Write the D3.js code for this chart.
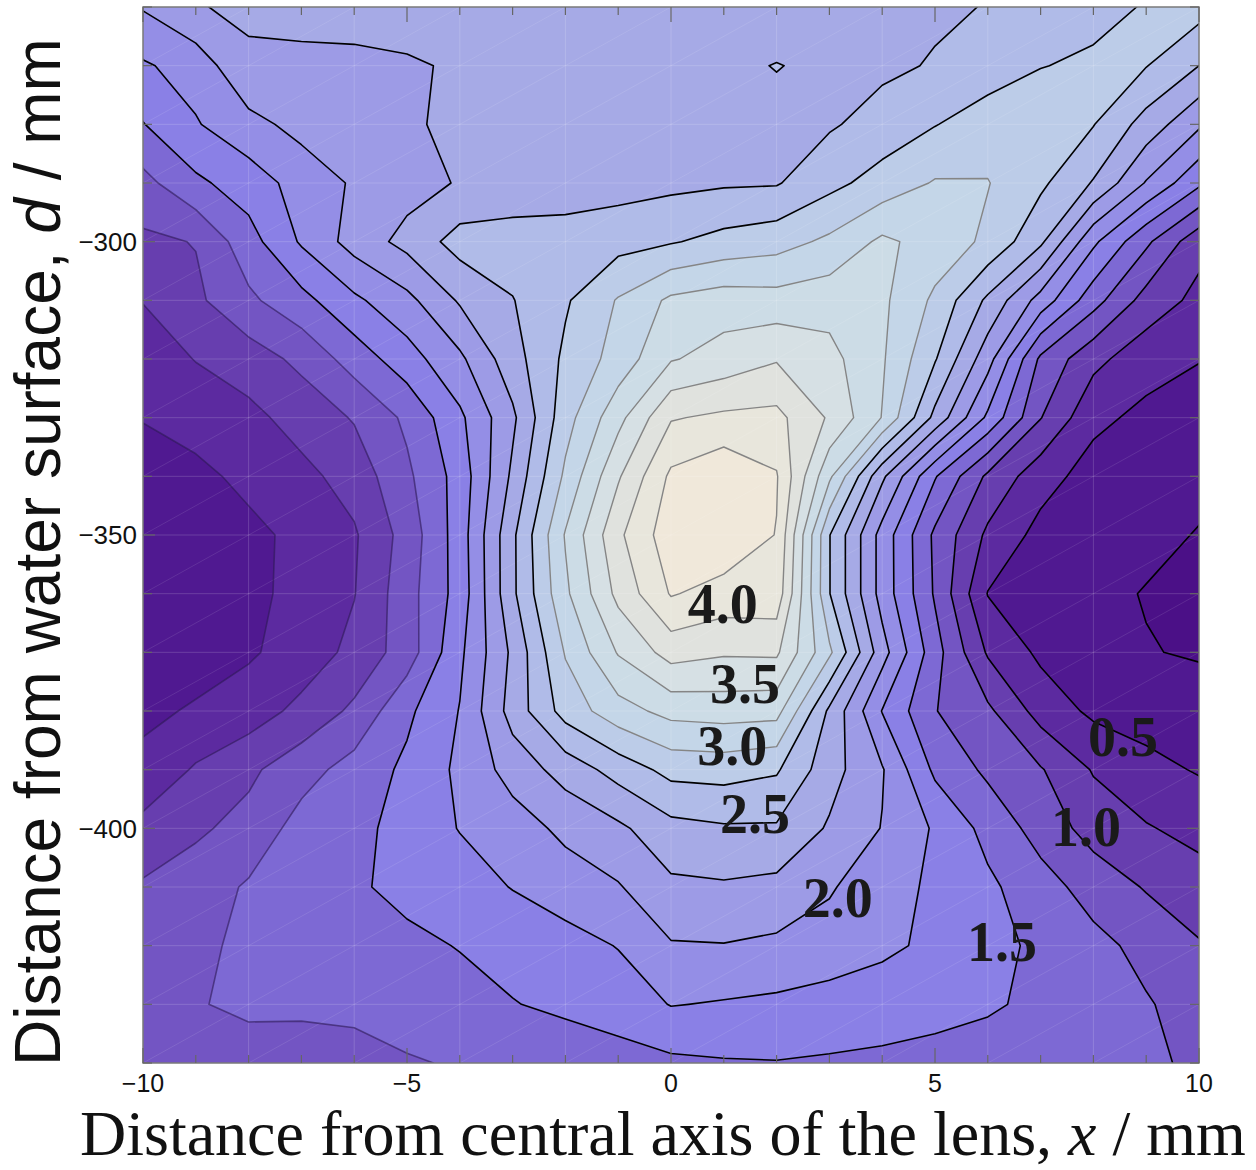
<!DOCTYPE html>
<html>
<head>
<meta charset="utf-8">
<script src="https://cdn.jsdelivr.net/npm/d3@7"></script>
<style>
  body { margin: 0; background: #fff; }
  svg { display: block; }
</style>
</head>
<body>
<svg id="chart"></svg>
<script>
// grid positions of the measurements
const xGrid = [-10, -9, -8, -7, -6, -5, -4, -3, -2, -1, 0, 1, 2, 3, 4, 5, 6, 7, 8, 9, 10]
const depthGrid = [-260, -270, -280, -290, -300, -310, -320, -330, -340, -350,
  -360, -370, -380, -390, -400, -410, -420, -430, -440]

// one row per depth (top = -260 mm), one value per x
const intensity = [
  [2.02, 2.24, 2.28, 2.3, 2.32, 2.33, 2.35, 2.36, 2.37, 2.38, 2.39, 2.4, 2.41, 2.42, 2.44, 2.46, 2.51, 2.57, 2.66, 2.77, 2.85],
  [1.72, 1.85, 2.22, 2.215, 2.21, 2.23, 2.27, 2.3, 2.32, 2.35, 2.38, 2.47, 2.505, 2.47, 2.45, 2.52, 2.62, 2.74, 2.8, 2.76, 2.5],
  [1.49, 1.73, 1.92, 2.08, 2.15, 2.22, 2.3, 2.35, 2.38, 2.4, 2.42, 2.44, 2.46, 2.47, 2.6, 2.74, 2.88, 2.95, 2.76, 2.4, 2.04],
  [1.17, 1.45, 1.62, 1.85, 2.03, 2.15, 2.27, 2.33, 2.36, 2.4, 2.44, 2.47, 2.48, 2.68, 2.85, 3.02, 3.01, 2.8, 2.48, 1.98, 1.55],
  [0.95, 1.01, 1.4, 1.78, 2.1, 2.33, 2.6, 2.62, 2.62, 2.66, 2.73, 2.83, 2.9, 3.05, 3.3, 3.15, 2.95, 2.55, 1.8, 1.3, 0.83],
  [0.76, 0.95, 1.2, 1.42, 1.7, 1.93, 2.28, 2.49, 2.72, 3.02, 3.3, 3.38, 3.35, 3.4, 3.3, 2.95, 2.45, 1.9, 1.35, 0.9, 0.68],
  [0.6, 0.76, 0.88, 1.06, 1.36, 1.64, 1.95, 2.4, 2.8, 3.1, 3.48, 3.6, 3.73, 3.58, 3.28, 2.77, 2.1, 1.2, 0.82, 0.6, 0.51],
  [0.51, 0.58, 0.68, 0.85, 1.02, 1.3, 1.7, 2.2, 2.9, 3.42, 3.98, 4.05, 4.07, 3.72, 3.24, 2.43, 1.7, 1.01, 0.56, 0.44, 0.38],
  [0.4, 0.45, 0.55, 0.68, 0.85, 1.2, 1.6, 2.3, 3.05, 3.72, 4.3, 4.45, 4.27, 3.3, 2.3, 1.52, 0.95, 0.6, 0.4, 0.35, 0.3],
  [0.35, 0.4, 0.45, 0.55, 0.72, 1.1, 1.62, 2.45, 3.27, 3.95, 4.4, 4.45, 4.24, 2.76, 1.9, 1.2, 0.7, 0.42, 0.35, 0.3, 0.24],
  [0.35, 0.38, 0.44, 0.57, 0.74, 1.15, 1.6, 2.45, 3.2, 3.82, 4.27, 4.15, 4.16, 2.76, 1.9, 1.22, 0.49, 0.38, 0.3, 0.24, 0.15],
  [0.4, 0.42, 0.47, 0.6, 0.82, 1.12, 1.7, 2.3, 3.02, 3.52, 3.85, 3.78, 3.79, 3.05, 2.1, 1.35, 0.72, 0.45, 0.35, 0.26, 0.23],
  [0.46, 0.52, 0.62, 0.82, 1.05, 1.45, 1.76, 2.35, 2.85, 3.15, 3.33, 3.36, 3.34, 2.45, 1.74, 1.26, 1.05, 0.65, 0.45, 0.4, 0.35],
  [0.55, 0.78, 0.95, 1.15, 1.35, 1.55, 1.8, 2.1, 2.35, 2.6, 2.83, 2.85, 2.78, 2.35, 2.02, 1.45, 1.2, 1.02, 0.73, 0.57, 0.48],
  [0.83, 0.96, 1.08, 1.35, 1.42, 1.6, 1.76, 1.88, 2.06, 2.2, 2.42, 2.47, 2.47, 2.22, 1.99, 1.72, 1.42, 1.15, 0.9, 0.77, 0.67],
  [1.03, 1.12, 1.28, 1.38, 1.47, 1.56, 1.64, 1.76, 1.87, 1.98, 2.2, 2.22, 2.18, 2.03, 1.82, 1.72, 1.55, 1.35, 1.15, 0.98, 0.86],
  [1.1, 1.2, 1.3, 1.35, 1.4, 1.45, 1.51, 1.58, 1.66, 1.76, 1.98, 1.99, 1.95, 1.88, 1.8, 1.7, 1.58, 1.45, 1.32, 1.18, 1.02],
  [1.15, 1.24, 1.28, 1.27, 1.27, 1.3, 1.42, 1.49, 1.55, 1.62, 1.76, 1.73, 1.7, 1.66, 1.62, 1.58, 1.53, 1.45, 1.38, 1.27, 1.15],
  [1.12, 1.15, 1.18, 1.2, 1.22, 1.24, 1.26, 1.3, 1.35, 1.4, 1.45, 1.48, 1.49, 1.47, 1.45, 1.42, 1.39, 1.36, 1.32, 1.28, 1.22]
]

const levels = [0.25, 0.5, 0.75, 1.0, 1.25, 1.5, 1.75, 2.0, 2.25, 2.5, 2.75, 3.0, 3.25, 3.5, 3.75, 4.0, 4.25]

// contour labels
const labelText = ['4.0', '3.5', '3.0', '2.5', '2.0', '1.5', '1.0', '0.5']
const labelX = [0.98, 1.4, 1.16, 1.59, 3.16, 6.27, 7.86, 8.56]
const labelDepth = [-361.7, -375.3, -385.9, -397.5, -411.8, -419.3, -399.7, -384.4]

const xTicks = [-10, -5, 0, 5, 10]
const yTicks = [-300, -350, -400]

// fill for each band, lowest first (below 0.25 up to above 4.25)
const bandColors = ['#4b1087', '#501991', '#5c2aa0', '#673eaf', '#7355c3', '#7d69d4',
  '#8a80e6', '#948ee6', '#9d9be6', '#a6aae6', '#b0bbe8', '#bccce8', '#c4d6e8',
  '#ccdce6', '#d6e0e4', '#e0e2de', '#e8e6dc', '#f0e8da']

const width = 1256
const height = 1170
const margin = {top: 7, right: 57, bottom: 107, left: 143}
const plotW = width - margin.left - margin.right
const plotH = height - margin.top - margin.bottom

const svg = d3.select('#chart')
  .attr('width', width)
  .attr('height', height)

const xScale = d3.scaleLinear().domain([-10, 10]).range([0, plotW])
const yScale = d3.scaleLinear().domain([-260, -440]).range([0, plotH])

const defs = svg.append('defs')
defs.append('clipPath').attr('id', 'plot-clip')
  .append('rect').attr('width', plotW).attr('height', plotH)
defs.append('clipPath').attr('id', 'left-clip')
  .append('rect').attr('width', xScale(0)).attr('height', plotH)
defs.append('clipPath').attr('id', 'right-clip')
  .append('rect').attr('x', xScale(0)).attr('width', plotW - xScale(0)).attr('height', plotH)

const chart = svg.append('g')
  .attr('transform', `translate(${margin.left},${margin.top})`)

// contours from the grid; grid index i sits at i + 0.5 in d3.contours space
const dxStep = xGrid[1] - xGrid[0]
const dyStep = depthGrid[1] - depthGrid[0]
const gridToPx = d3.geoTransform({
  point (c, r) {
    this.stream.point(xScale(xGrid[0] + (c - 0.5) * dxStep), yScale(depthGrid[0] + (r - 0.5) * dyStep))
  }
})
const path = d3.geoPath(gridToPx)

const contours = d3.contours()
  .size([xGrid.length, depthGrid.length])
  .thresholds(levels)(intensity.flat())

const plot = chart.append('g').attr('clip-path', 'url(#plot-clip)')

plot.append('rect')
  .attr('width', plotW)
  .attr('height', plotH)
  .attr('fill', bandColors[0])

plot.selectAll('.band')
  .data(contours)
  .enter()
  .append('path')
  .attr('class', 'band')
  .attr('d', path)
  .attr('fill', (c, i) => bandColors[i + 1])

// faint white grid and diagonal texture
const grid = plot.append('g')
  .attr('stroke', '#fff')
  .attr('fill', 'none')
d3.range(-8, 10, 2).forEach(v => {
  grid.append('line')
    .attr('x1', xScale(v)).attr('x2', xScale(v))
    .attr('y1', 0).attr('y2', plotH)
    .attr('stroke-opacity', 0.16)
})
depthGrid.slice(1, -1).forEach(v => {
  grid.append('line')
    .attr('x1', 0).attr('x2', plotW)
    .attr('y1', yScale(v)).attr('y2', yScale(v))
    .attr('stroke-opacity', 0.16)
})
d3.range(-10, 10, 2).forEach(gx => {
  depthGrid.slice(0, -1).forEach(gd => {
    grid.append('line')
      .attr('x1', xScale(gx)).attr('y1', yScale(gd - 10))
      .attr('x2', xScale(gx + 2)).attr('y2', yScale(gd))
      .attr('stroke-opacity', 0.1)
  })
})

// contour lines: grey for the high levels, dim on the left for the low ones
const lineStroke = (c, side) => {
  if (c.value >= 3.0) return '#858585'
  if (c.value <= 1.25 && side === 'left') return 'rgba(45,25,85,0.6)'
  return '#000'
}
;['left', 'right'].forEach(side => {
  plot.append('g')
    .attr('clip-path', `url(#${side}-clip)`)
    .selectAll('.iso')
    .data(contours)
    .enter()
    .append('path')
    .attr('d', path)
    .attr('fill', 'none')
    .attr('stroke', c => lineStroke(c, side))
    .attr('stroke-width', c => c.value >= 3.0 ? 1.4 : 1.6)
    .attr('stroke-linejoin', 'round')
})

// contour value labels
chart.selectAll('.clabel')
  .data(labelText)
  .enter()
  .append('text')
  .attr('x', (t, i) => xScale(labelX[i]))
  .attr('y', (t, i) => yScale(labelDepth[i]))
  .attr('dy', '0.35em')
  .attr('text-anchor', 'middle')
  .style('font-family', '"Liberation Serif", "Times New Roman", serif')
  .style('font-weight', 'bold')
  .style('font-size', '56px')
  .style('fill', '#1a1a1a')
  .text(t => t)

// frame
chart.append('rect')
  .attr('width', plotW)
  .attr('height', plotH)
  .attr('fill', 'none')
  .attr('stroke', '#7a7a7a')
  .attr('stroke-width', 1.5)

// ticks on all four sides
const ticks = chart.append('g').attr('stroke', '#666').attr('stroke-width', 1.2)
d3.range(-10, 11, 1).forEach(v => {
  const len = v % 5 === 0 ? 15 : 8
  ticks.append('line').attr('x1', xScale(v)).attr('x2', xScale(v)).attr('y1', plotH).attr('y2', plotH - len)
  ticks.append('line').attr('x1', xScale(v)).attr('x2', xScale(v)).attr('y1', 0).attr('y2', len)
})
d3.range(-260, -441, -10).forEach(v => {
  const len = v % 50 === 0 ? 12 : 9
  ticks.append('line').attr('x1', 0).attr('x2', len).attr('y1', yScale(v)).attr('y2', yScale(v))
  ticks.append('line').attr('x1', plotW).attr('x2', plotW - len).attr('y1', yScale(v)).attr('y2', yScale(v))
})

const fmt = v => (v < 0 ? '\u2212' : '') + Math.abs(v)

chart.selectAll('.xtick')
  .data(xTicks)
  .enter()
  .append('text')
  .attr('x', v => xScale(v))
  .attr('y', plotH + 29)
  .attr('text-anchor', 'middle')
  .style('font-family', '"Liberation Sans", Arial, sans-serif')
  .style('font-size', '25px')
  .style('fill', '#111')
  .text(fmt)

chart.selectAll('.ytick')
  .data(yTicks)
  .enter()
  .append('text')
  .attr('x', -6)
  .attr('y', v => yScale(v))
  .attr('dy', '0.36em')
  .attr('text-anchor', 'end')
  .style('font-family', '"Liberation Sans", Arial, sans-serif')
  .style('font-size', '26px')
  .style('fill', '#111')
  .text(fmt)

// axis titles
const yTitle = svg.append('text')
  .attr('transform', 'translate(60, 552) rotate(-90)')
  .attr('text-anchor', 'middle')
  .style('font-family', '"Liberation Sans", Arial, sans-serif')
  .style('font-size', '64px')
  .style('fill', '#111')
yTitle.append('tspan').text('Distance from water surface, ')
yTitle.append('tspan').style('font-style', 'italic').text('d')
yTitle.append('tspan').text(' / mm')

const xTitle = svg.append('text')
  .attr('x', 80)
  .attr('y', 1155)
  .style('font-family', '"Liberation Serif", "Times New Roman", serif')
  .style('font-size', '64px')
  .style('fill', '#111')
xTitle.append('tspan').text('Distance from central axis of the lens, ')
xTitle.append('tspan').style('font-style', 'italic').text('x')
xTitle.append('tspan').text(' / mm')
</script>
</body>
</html>
